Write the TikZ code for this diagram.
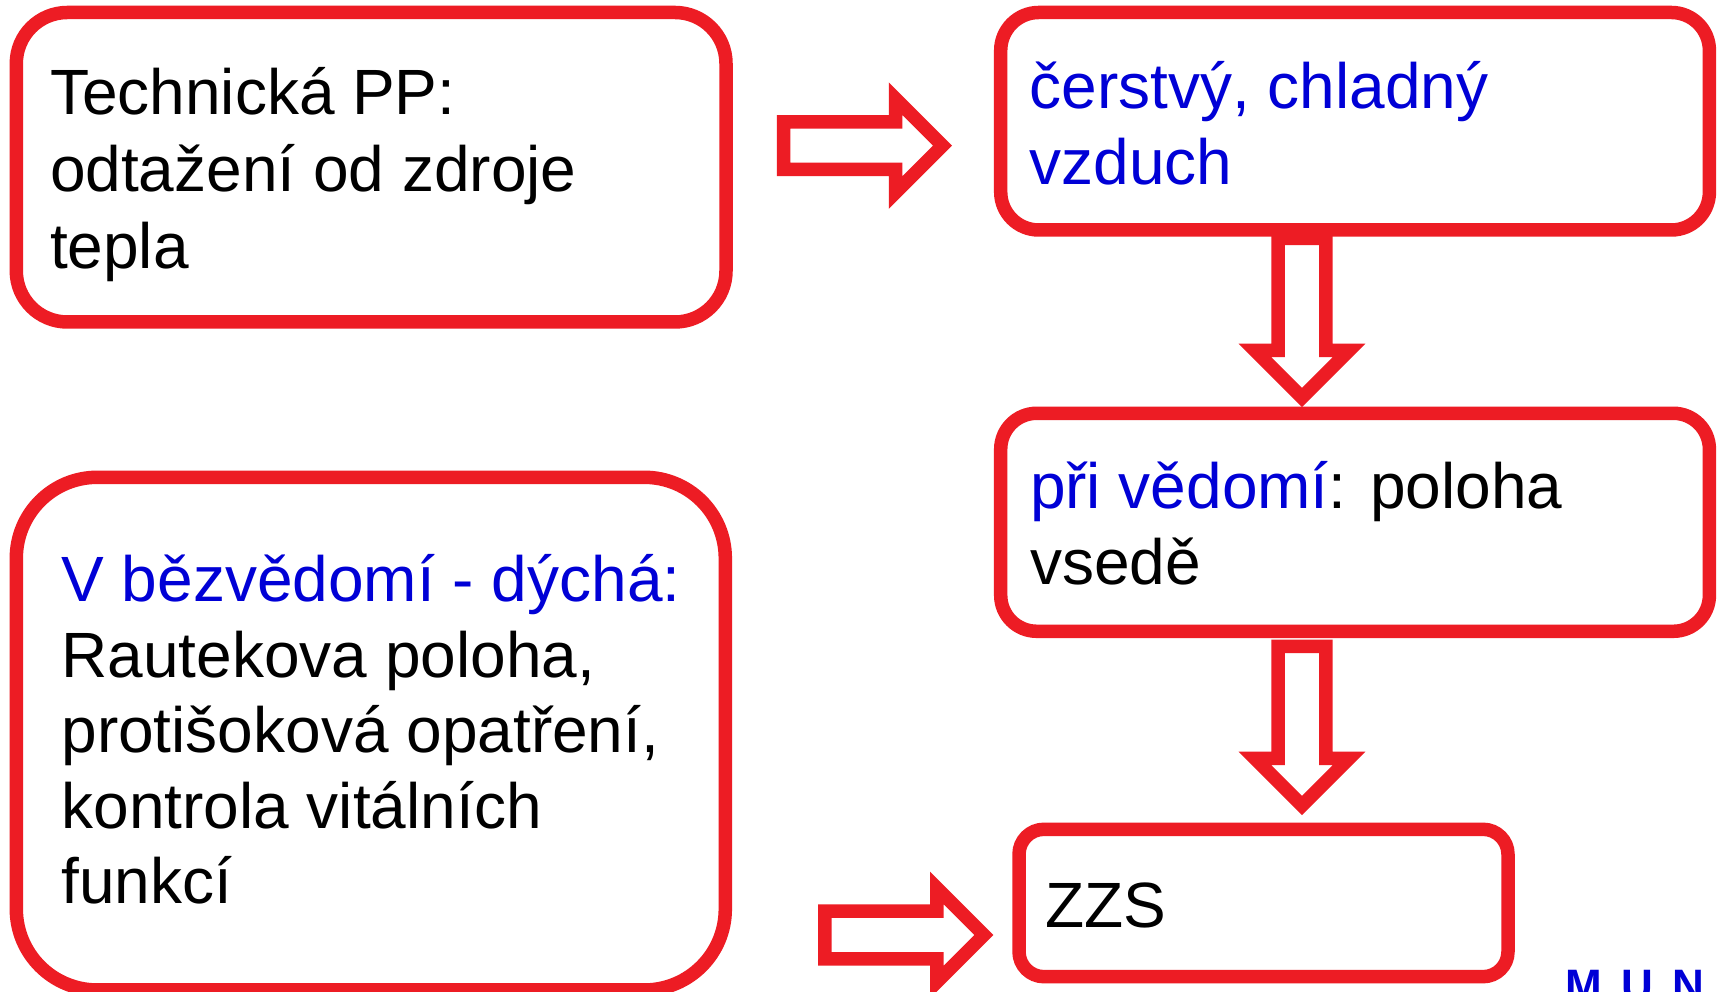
\documentclass[tikz,border=0pt]{standalone}
\usepackage{fontspec}
\setmainfont{Liberation Sans}
\definecolor{myred}{RGB}{237,28,36}
\definecolor{myblue}{RGB}{0,0,214}
\tikzset{
  box/.style={draw=myred, line width=13.5pt, rectangle, inner sep=0pt, outer sep=0pt},
  arr/.style={draw=myred, line width=13.5pt, miter limit=10},
  txt/.style={anchor=base west, inner sep=0pt, outer sep=0pt, font=\fontsize{64}{76.7}\selectfont},
  logo/.style={anchor=north west, inner sep=0pt, outer sep=0pt, text=myblue, font=\fontsize{44}{50}\selectfont\bfseries},
}
\newcommand\Lns[2]{\vtop{\baselineskip=#1\lineskiplimit=-1000pt\relax #2}}
\newcommand\blockarrow[2]{%
  \begin{scope}[shift={(#1)}, rotate=#2]
    \draw[arr] (0,23.8) -- (112,23.8) -- (112,47) -- (159,0) -- (112,-47) -- (112,-23.8) -- (0,-23.8) -- cycle;
  \end{scope}}
\begin{document}
\begin{tikzpicture}[x=1pt,y=1pt]
\useasboundingbox (0,0) rectangle (1719,992);
\clip (0,0) rectangle (1719,992);
\fill[white] (0,0) rectangle (1719,992);
% boxes
\node[box, minimum width=709.7pt, minimum height=309.5pt, rounded corners=51pt] (b1) at (371.15,824.75) {};
\node[box, minimum width=708.7pt, minimum height=217.5pt, rounded corners=38pt] (b2) at (1355.05,870.75) {};
\node[box, minimum width=708.7pt, minimum height=218pt, rounded corners=36pt] (b3) at (1355.05,469.7) {};
\node[box, minimum width=489pt, minimum height=147.4pt, rounded corners=25pt] (b4) at (1263.5,89) {};
\node[box, minimum width=709pt, minimum height=512.7pt, rounded corners=81pt] (b5) at (370.8,258.35) {};
% texts
\node[txt] (t1) at (50,877) {\Lns{76.7pt}{\hbox{Technická PP:}\hbox{odtažení od zdroje}\hbox{tepla}}};
\node[txt, text=myblue] (t2) at (1029.5,883.7) {\Lns{76.7pt}{\hbox{čerstvý, chladný}\hbox{vzduch}}};
\node[txt] (t3) at (1030,483.7) {\Lns{76.7pt}{\hbox{{\color{myblue}při vědomí}: poloha}\hbox{vsedě}}};
\node[txt] (t4) at (1045.5,64.7) {ZZS};
\node[txt] (t5) at (61.5,390.3) {\Lns{75.5pt}{\hbox{\color{myblue}V bězvědomí - dýchá:}\hbox{Rautekova poloha,}\hbox{protišoková opatření,}\hbox{kontrola vitálních}\hbox{funkcí}}};
% arrows
\coordinate (a1) at (783.5,846.3);
\coordinate (a2) at (1302,753.5);
\coordinate (a3) at (1302,345.5);
\coordinate (a4) at (824.8,57);
\blockarrow{a1}{0}
\blockarrow{a2}{-90}
\blockarrow{a3}{-90}
\blockarrow{a4}{0}
% logo
\node[logo] (m) at (1565.5,21.3) {M};
\node[logo] (u) at (1621.5,21.3) {U};
\node[logo] (n) at (1672.5,21.3) {N};
\end{tikzpicture}
\end{document}
